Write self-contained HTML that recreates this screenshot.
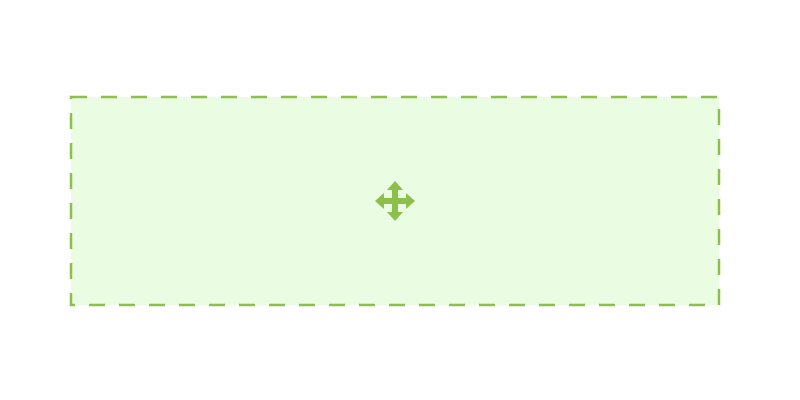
<!DOCTYPE html>
<html><head><meta charset="utf-8"><style>html,body{margin:0;padding:0;background:#fff;width:800px;height:400px;overflow:hidden}</style></head>
<body>
<svg width="800" height="400">
<rect x="71" y="97" width="648" height="208" fill="#eafce1" stroke="#8cc04a" stroke-width="2.5" stroke-dasharray="16,14"/>
<g fill="#8cc04a">
<rect x="392" y="188" width="6" height="26"/>
<rect x="382" y="198" width="26" height="6"/>
<polygon points="395,181 387,190 403,190"/>
<polygon points="395,221 387,212 403,212"/>
<polygon points="375,201 384,193 384,209"/>
<polygon points="415,201 406,193 406,209"/>
</g>
</svg>
</body></html>
